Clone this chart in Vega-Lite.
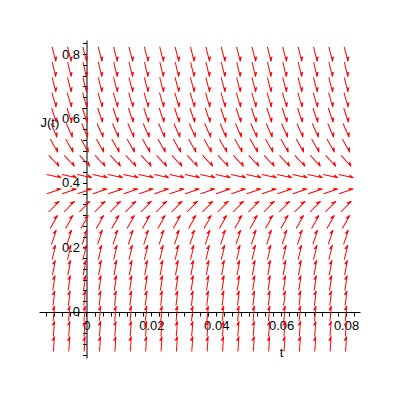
{
"$schema": "https://vega.github.io/schema/vega-lite/v6.json",
"width": 321, "height": 318,
"autosize": "none",
"padding": {"left": 39, "top": 40, "right": 40, "bottom": 42},
"background": "white",
"datasets": {
"dirs": [
{"J":0.8,"d":76},{"J":0.7526,"d":77},{"J":0.7053,"d":76},{"J":0.6579,"d":74},{"J":0.6105,"d":72},
{"J":0.5632,"d":67},{"J":0.5158,"d":61},{"J":0.4684,"d":48},{"J":0.4211,"d":13},{"J":0.3737,"d":-18},
{"J":0.3263,"d":-45},{"J":0.2789,"d":-60},{"J":0.2316,"d":-71},{"J":0.1842,"d":-76},{"J":0.1368,"d":-79},
{"J":0.0895,"d":-81},{"J":0.0421,"d":-83},{"J":-0.0053,"d":-84},{"J":-0.0526,"d":-85},{"J":-0.1,"d":-86}
]
},
"data": {"values": [
{"t":-0.01,"J":0.8},{"t":-0.00526,"J":0.8},{"t":-0.00053,"J":0.8},{"t":0.00421,"J":0.8},{"t":0.00895,"J":0.8},{"t":0.01368,"J":0.8},{"t":0.01842,"J":0.8},{"t":0.02316,"J":0.8},{"t":0.02789,"J":0.8},{"t":0.03263,"J":0.8},{"t":0.03737,"J":0.8},{"t":0.04211,"J":0.8},{"t":0.04684,"J":0.8},{"t":0.05158,"J":0.8},{"t":0.05632,"J":0.8},{"t":0.06105,"J":0.8},{"t":0.06579,"J":0.8},{"t":0.07053,"J":0.8},{"t":0.07526,"J":0.8},{"t":0.08,"J":0.8},
{"t":-0.01,"J":0.7526},{"t":-0.00526,"J":0.7526},{"t":-0.00053,"J":0.7526},{"t":0.00421,"J":0.7526},{"t":0.00895,"J":0.7526},{"t":0.01368,"J":0.7526},{"t":0.01842,"J":0.7526},{"t":0.02316,"J":0.7526},{"t":0.02789,"J":0.7526},{"t":0.03263,"J":0.7526},{"t":0.03737,"J":0.7526},{"t":0.04211,"J":0.7526},{"t":0.04684,"J":0.7526},{"t":0.05158,"J":0.7526},{"t":0.05632,"J":0.7526},{"t":0.06105,"J":0.7526},{"t":0.06579,"J":0.7526},{"t":0.07053,"J":0.7526},{"t":0.07526,"J":0.7526},{"t":0.08,"J":0.7526},
{"t":-0.01,"J":0.7053},{"t":-0.00526,"J":0.7053},{"t":-0.00053,"J":0.7053},{"t":0.00421,"J":0.7053},{"t":0.00895,"J":0.7053},{"t":0.01368,"J":0.7053},{"t":0.01842,"J":0.7053},{"t":0.02316,"J":0.7053},{"t":0.02789,"J":0.7053},{"t":0.03263,"J":0.7053},{"t":0.03737,"J":0.7053},{"t":0.04211,"J":0.7053},{"t":0.04684,"J":0.7053},{"t":0.05158,"J":0.7053},{"t":0.05632,"J":0.7053},{"t":0.06105,"J":0.7053},{"t":0.06579,"J":0.7053},{"t":0.07053,"J":0.7053},{"t":0.07526,"J":0.7053},{"t":0.08,"J":0.7053},
{"t":-0.01,"J":0.6579},{"t":-0.00526,"J":0.6579},{"t":-0.00053,"J":0.6579},{"t":0.00421,"J":0.6579},{"t":0.00895,"J":0.6579},{"t":0.01368,"J":0.6579},{"t":0.01842,"J":0.6579},{"t":0.02316,"J":0.6579},{"t":0.02789,"J":0.6579},{"t":0.03263,"J":0.6579},{"t":0.03737,"J":0.6579},{"t":0.04211,"J":0.6579},{"t":0.04684,"J":0.6579},{"t":0.05158,"J":0.6579},{"t":0.05632,"J":0.6579},{"t":0.06105,"J":0.6579},{"t":0.06579,"J":0.6579},{"t":0.07053,"J":0.6579},{"t":0.07526,"J":0.6579},{"t":0.08,"J":0.6579},
{"t":-0.01,"J":0.6105},{"t":-0.00526,"J":0.6105},{"t":-0.00053,"J":0.6105},{"t":0.00421,"J":0.6105},{"t":0.00895,"J":0.6105},{"t":0.01368,"J":0.6105},{"t":0.01842,"J":0.6105},{"t":0.02316,"J":0.6105},{"t":0.02789,"J":0.6105},{"t":0.03263,"J":0.6105},{"t":0.03737,"J":0.6105},{"t":0.04211,"J":0.6105},{"t":0.04684,"J":0.6105},{"t":0.05158,"J":0.6105},{"t":0.05632,"J":0.6105},{"t":0.06105,"J":0.6105},{"t":0.06579,"J":0.6105},{"t":0.07053,"J":0.6105},{"t":0.07526,"J":0.6105},{"t":0.08,"J":0.6105},
{"t":-0.01,"J":0.5632},{"t":-0.00526,"J":0.5632},{"t":-0.00053,"J":0.5632},{"t":0.00421,"J":0.5632},{"t":0.00895,"J":0.5632},{"t":0.01368,"J":0.5632},{"t":0.01842,"J":0.5632},{"t":0.02316,"J":0.5632},{"t":0.02789,"J":0.5632},{"t":0.03263,"J":0.5632},{"t":0.03737,"J":0.5632},{"t":0.04211,"J":0.5632},{"t":0.04684,"J":0.5632},{"t":0.05158,"J":0.5632},{"t":0.05632,"J":0.5632},{"t":0.06105,"J":0.5632},{"t":0.06579,"J":0.5632},{"t":0.07053,"J":0.5632},{"t":0.07526,"J":0.5632},{"t":0.08,"J":0.5632},
{"t":-0.01,"J":0.5158},{"t":-0.00526,"J":0.5158},{"t":-0.00053,"J":0.5158},{"t":0.00421,"J":0.5158},{"t":0.00895,"J":0.5158},{"t":0.01368,"J":0.5158},{"t":0.01842,"J":0.5158},{"t":0.02316,"J":0.5158},{"t":0.02789,"J":0.5158},{"t":0.03263,"J":0.5158},{"t":0.03737,"J":0.5158},{"t":0.04211,"J":0.5158},{"t":0.04684,"J":0.5158},{"t":0.05158,"J":0.5158},{"t":0.05632,"J":0.5158},{"t":0.06105,"J":0.5158},{"t":0.06579,"J":0.5158},{"t":0.07053,"J":0.5158},{"t":0.07526,"J":0.5158},{"t":0.08,"J":0.5158},
{"t":-0.01,"J":0.4684},{"t":-0.00526,"J":0.4684},{"t":-0.00053,"J":0.4684},{"t":0.00421,"J":0.4684},{"t":0.00895,"J":0.4684},{"t":0.01368,"J":0.4684},{"t":0.01842,"J":0.4684},{"t":0.02316,"J":0.4684},{"t":0.02789,"J":0.4684},{"t":0.03263,"J":0.4684},{"t":0.03737,"J":0.4684},{"t":0.04211,"J":0.4684},{"t":0.04684,"J":0.4684},{"t":0.05158,"J":0.4684},{"t":0.05632,"J":0.4684},{"t":0.06105,"J":0.4684},{"t":0.06579,"J":0.4684},{"t":0.07053,"J":0.4684},{"t":0.07526,"J":0.4684},{"t":0.08,"J":0.4684},
{"t":-0.01,"J":0.4211},{"t":-0.00526,"J":0.4211},{"t":-0.00053,"J":0.4211},{"t":0.00421,"J":0.4211},{"t":0.00895,"J":0.4211},{"t":0.01368,"J":0.4211},{"t":0.01842,"J":0.4211},{"t":0.02316,"J":0.4211},{"t":0.02789,"J":0.4211},{"t":0.03263,"J":0.4211},{"t":0.03737,"J":0.4211},{"t":0.04211,"J":0.4211},{"t":0.04684,"J":0.4211},{"t":0.05158,"J":0.4211},{"t":0.05632,"J":0.4211},{"t":0.06105,"J":0.4211},{"t":0.06579,"J":0.4211},{"t":0.07053,"J":0.4211},{"t":0.07526,"J":0.4211},{"t":0.08,"J":0.4211},
{"t":-0.01,"J":0.3737},{"t":-0.00526,"J":0.3737},{"t":-0.00053,"J":0.3737},{"t":0.00421,"J":0.3737},{"t":0.00895,"J":0.3737},{"t":0.01368,"J":0.3737},{"t":0.01842,"J":0.3737},{"t":0.02316,"J":0.3737},{"t":0.02789,"J":0.3737},{"t":0.03263,"J":0.3737},{"t":0.03737,"J":0.3737},{"t":0.04211,"J":0.3737},{"t":0.04684,"J":0.3737},{"t":0.05158,"J":0.3737},{"t":0.05632,"J":0.3737},{"t":0.06105,"J":0.3737},{"t":0.06579,"J":0.3737},{"t":0.07053,"J":0.3737},{"t":0.07526,"J":0.3737},{"t":0.08,"J":0.3737},
{"t":-0.01,"J":0.3263},{"t":-0.00526,"J":0.3263},{"t":-0.00053,"J":0.3263},{"t":0.00421,"J":0.3263},{"t":0.00895,"J":0.3263},{"t":0.01368,"J":0.3263},{"t":0.01842,"J":0.3263},{"t":0.02316,"J":0.3263},{"t":0.02789,"J":0.3263},{"t":0.03263,"J":0.3263},{"t":0.03737,"J":0.3263},{"t":0.04211,"J":0.3263},{"t":0.04684,"J":0.3263},{"t":0.05158,"J":0.3263},{"t":0.05632,"J":0.3263},{"t":0.06105,"J":0.3263},{"t":0.06579,"J":0.3263},{"t":0.07053,"J":0.3263},{"t":0.07526,"J":0.3263},{"t":0.08,"J":0.3263},
{"t":-0.01,"J":0.2789},{"t":-0.00526,"J":0.2789},{"t":-0.00053,"J":0.2789},{"t":0.00421,"J":0.2789},{"t":0.00895,"J":0.2789},{"t":0.01368,"J":0.2789},{"t":0.01842,"J":0.2789},{"t":0.02316,"J":0.2789},{"t":0.02789,"J":0.2789},{"t":0.03263,"J":0.2789},{"t":0.03737,"J":0.2789},{"t":0.04211,"J":0.2789},{"t":0.04684,"J":0.2789},{"t":0.05158,"J":0.2789},{"t":0.05632,"J":0.2789},{"t":0.06105,"J":0.2789},{"t":0.06579,"J":0.2789},{"t":0.07053,"J":0.2789},{"t":0.07526,"J":0.2789},{"t":0.08,"J":0.2789},
{"t":-0.01,"J":0.2316},{"t":-0.00526,"J":0.2316},{"t":-0.00053,"J":0.2316},{"t":0.00421,"J":0.2316},{"t":0.00895,"J":0.2316},{"t":0.01368,"J":0.2316},{"t":0.01842,"J":0.2316},{"t":0.02316,"J":0.2316},{"t":0.02789,"J":0.2316},{"t":0.03263,"J":0.2316},{"t":0.03737,"J":0.2316},{"t":0.04211,"J":0.2316},{"t":0.04684,"J":0.2316},{"t":0.05158,"J":0.2316},{"t":0.05632,"J":0.2316},{"t":0.06105,"J":0.2316},{"t":0.06579,"J":0.2316},{"t":0.07053,"J":0.2316},{"t":0.07526,"J":0.2316},{"t":0.08,"J":0.2316},
{"t":-0.01,"J":0.1842},{"t":-0.00526,"J":0.1842},{"t":-0.00053,"J":0.1842},{"t":0.00421,"J":0.1842},{"t":0.00895,"J":0.1842},{"t":0.01368,"J":0.1842},{"t":0.01842,"J":0.1842},{"t":0.02316,"J":0.1842},{"t":0.02789,"J":0.1842},{"t":0.03263,"J":0.1842},{"t":0.03737,"J":0.1842},{"t":0.04211,"J":0.1842},{"t":0.04684,"J":0.1842},{"t":0.05158,"J":0.1842},{"t":0.05632,"J":0.1842},{"t":0.06105,"J":0.1842},{"t":0.06579,"J":0.1842},{"t":0.07053,"J":0.1842},{"t":0.07526,"J":0.1842},{"t":0.08,"J":0.1842},
{"t":-0.01,"J":0.1368},{"t":-0.00526,"J":0.1368},{"t":-0.00053,"J":0.1368},{"t":0.00421,"J":0.1368},{"t":0.00895,"J":0.1368},{"t":0.01368,"J":0.1368},{"t":0.01842,"J":0.1368},{"t":0.02316,"J":0.1368},{"t":0.02789,"J":0.1368},{"t":0.03263,"J":0.1368},{"t":0.03737,"J":0.1368},{"t":0.04211,"J":0.1368},{"t":0.04684,"J":0.1368},{"t":0.05158,"J":0.1368},{"t":0.05632,"J":0.1368},{"t":0.06105,"J":0.1368},{"t":0.06579,"J":0.1368},{"t":0.07053,"J":0.1368},{"t":0.07526,"J":0.1368},{"t":0.08,"J":0.1368},
{"t":-0.01,"J":0.0895},{"t":-0.00526,"J":0.0895},{"t":-0.00053,"J":0.0895},{"t":0.00421,"J":0.0895},{"t":0.00895,"J":0.0895},{"t":0.01368,"J":0.0895},{"t":0.01842,"J":0.0895},{"t":0.02316,"J":0.0895},{"t":0.02789,"J":0.0895},{"t":0.03263,"J":0.0895},{"t":0.03737,"J":0.0895},{"t":0.04211,"J":0.0895},{"t":0.04684,"J":0.0895},{"t":0.05158,"J":0.0895},{"t":0.05632,"J":0.0895},{"t":0.06105,"J":0.0895},{"t":0.06579,"J":0.0895},{"t":0.07053,"J":0.0895},{"t":0.07526,"J":0.0895},{"t":0.08,"J":0.0895},
{"t":-0.01,"J":0.0421},{"t":-0.00526,"J":0.0421},{"t":-0.00053,"J":0.0421},{"t":0.00421,"J":0.0421},{"t":0.00895,"J":0.0421},{"t":0.01368,"J":0.0421},{"t":0.01842,"J":0.0421},{"t":0.02316,"J":0.0421},{"t":0.02789,"J":0.0421},{"t":0.03263,"J":0.0421},{"t":0.03737,"J":0.0421},{"t":0.04211,"J":0.0421},{"t":0.04684,"J":0.0421},{"t":0.05158,"J":0.0421},{"t":0.05632,"J":0.0421},{"t":0.06105,"J":0.0421},{"t":0.06579,"J":0.0421},{"t":0.07053,"J":0.0421},{"t":0.07526,"J":0.0421},{"t":0.08,"J":0.0421},
{"t":-0.01,"J":-0.0053},{"t":-0.00526,"J":-0.0053},{"t":-0.00053,"J":-0.0053},{"t":0.00421,"J":-0.0053},{"t":0.00895,"J":-0.0053},{"t":0.01368,"J":-0.0053},{"t":0.01842,"J":-0.0053},{"t":0.02316,"J":-0.0053},{"t":0.02789,"J":-0.0053},{"t":0.03263,"J":-0.0053},{"t":0.03737,"J":-0.0053},{"t":0.04211,"J":-0.0053},{"t":0.04684,"J":-0.0053},{"t":0.05158,"J":-0.0053},{"t":0.05632,"J":-0.0053},{"t":0.06105,"J":-0.0053},{"t":0.06579,"J":-0.0053},{"t":0.07053,"J":-0.0053},{"t":0.07526,"J":-0.0053},{"t":0.08,"J":-0.0053},
{"t":-0.01,"J":-0.0526},{"t":-0.00526,"J":-0.0526},{"t":-0.00053,"J":-0.0526},{"t":0.00421,"J":-0.0526},{"t":0.00895,"J":-0.0526},{"t":0.01368,"J":-0.0526},{"t":0.01842,"J":-0.0526},{"t":0.02316,"J":-0.0526},{"t":0.02789,"J":-0.0526},{"t":0.03263,"J":-0.0526},{"t":0.03737,"J":-0.0526},{"t":0.04211,"J":-0.0526},{"t":0.04684,"J":-0.0526},{"t":0.05158,"J":-0.0526},{"t":0.05632,"J":-0.0526},{"t":0.06105,"J":-0.0526},{"t":0.06579,"J":-0.0526},{"t":0.07053,"J":-0.0526},{"t":0.07526,"J":-0.0526},{"t":0.08,"J":-0.0526},
{"t":-0.01,"J":-0.1},{"t":-0.00526,"J":-0.1},{"t":-0.00053,"J":-0.1},{"t":0.00421,"J":-0.1},{"t":0.00895,"J":-0.1},{"t":0.01368,"J":-0.1},{"t":0.01842,"J":-0.1},{"t":0.02316,"J":-0.1},{"t":0.02789,"J":-0.1},{"t":0.03263,"J":-0.1},{"t":0.03737,"J":-0.1},{"t":0.04211,"J":-0.1},{"t":0.04684,"J":-0.1},{"t":0.05158,"J":-0.1},{"t":0.05632,"J":-0.1},{"t":0.06105,"J":-0.1},{"t":0.06579,"J":-0.1},{"t":0.07053,"J":-0.1},{"t":0.07526,"J":-0.1},{"t":0.08,"J":-0.1}
]},
"transform": [{"lookup": "J", "from": {"data": {"name": "dirs"}, "key": "J", "fields": ["d"]}}],
"mark": {"type": "point", "shape": "M-1,0L1,0M1,0L0.5,-0.24L0.55,0Z", "filled": true, "fill": "#ff0000", "stroke": "#ff0000", "strokeWidth": 1, "size": 225, "opacity": 1},
"encoding": {
"x": {"field": "t", "type": "quantitative",
 "scale": {"domain": [-0.0146, 0.0843], "nice": false, "zero": false},
 "axis": {"orient": "bottom", "offset": -46,
  "values": [-0.0125, -0.01, -0.0075, -0.005, -0.0025, 0, 0.0025, 0.005, 0.0075, 0.01, 0.0125, 0.015, 0.0175, 0.02, 0.0225, 0.025, 0.0275, 0.03, 0.0325, 0.035, 0.0375, 0.04, 0.0425, 0.045, 0.0475, 0.05, 0.0525, 0.055, 0.0575, 0.06, 0.0625, 0.065, 0.0675, 0.07, 0.0725, 0.075, 0.0775, 0.08, 0.0825],
  "format": "~g", "labelExpr": "abs(datum.value/0.02 - round(datum.value/0.02)) < 0.01 ? datum.label : ''", "grid": false,
  "domainColor": "black", "tickColor": "black", "tickSize": 4, "labelPadding": 3, "labelFontSize": 13, "labelFont": "Liberation Sans", "labelColor": "black", "labelOverlap": false, "labelFlush": false,
  "title": "t", "titleFont": "Liberation Sans", "titleFontSize": 13, "titleFontWeight": "normal", "titleColor": "black", "titleAnchor": null, "titleAlign": "center", "titleBaseline": "alphabetic", "titleX": 242, "titleY": 44}},
"y": {"field": "J", "type": "quantitative",
 "scale": {"domain": [-0.1433, 0.8436], "nice": false, "zero": false},
 "axis": {"orient": "left", "offset": -47.5,
  "values": [-0.1333, -0.1, -0.0667, -0.0333, 0, 0.0333, 0.0667, 0.1, 0.1333, 0.1667, 0.2, 0.2333, 0.2667, 0.3, 0.3333, 0.3667, 0.4, 0.4333, 0.4667, 0.5, 0.5333, 0.5667, 0.6, 0.6333, 0.6667, 0.7, 0.7333, 0.7667, 0.8, 0.8333],
  "format": "~g", "labelExpr": "abs(datum.value/0.2 - round(datum.value/0.2)) < 0.01 ? datum.label : ''", "grid": false,
  "domainColor": "black", "tickColor": "black", "tickSize": 4, "labelPadding": 3, "labelFontSize": 13, "labelFont": "Liberation Sans", "labelColor": "black", "labelOverlap": false, "labelFlush": false,
  "title": "J(t)", "titleFont": "Liberation Sans", "titleFontSize": 13, "titleFontWeight": "normal", "titleColor": "black", "titleAngle": 0, "titleAnchor": null, "titleAlign": "left", "titleBaseline": "alphabetic", "titleX": -46.5, "titleY": 86}},
"angle": {"field": "d", "type": "quantitative", "scale": null}
},
"config": {"view": {"stroke": null}}
}
